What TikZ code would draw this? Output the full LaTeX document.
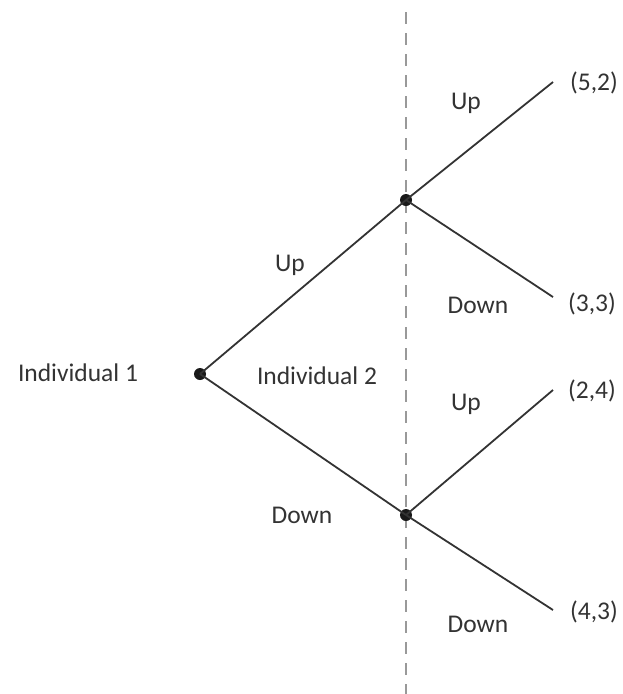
\documentclass[tikz,border=0pt]{standalone}
\usepackage{fontspec}
\setmainfont{Carlito}
\begin{document}
\begin{tikzpicture}[x=1pt,y=-1pt,
  branch/.style={draw=black!80, line width=1.8pt},
  decision/.style={circle, fill=black!90, inner sep=0pt, minimum size=12pt},
  lbl/.style={text=black!80, font=\fontsize{25.5}{30}\selectfont, inner sep=0pt},
  divider/.style={draw=black!40, line width=1.6pt, dash pattern=on 12pt off 9pt}]
  \useasboundingbox (0,0) rectangle (623,694);
  % divider between the two players' moves
  \coordinate (dtop) at (406,12);
  \coordinate (dbot) at (406,694);
  \draw[divider] (dtop) -- (dbot);
  % decision points
  \node[decision] (r) at (200,374) {};
  \node[decision] (u) at (406,200) {};
  \node[decision] (d) at (406,515) {};
  % terminal points
  \coordinate (uu) at (553,82);
  \coordinate (ud) at (553,297);
  \coordinate (du) at (553,390);
  \coordinate (dd) at (553,610);
  \draw[branch] (r.center) -- (u.center);
  \draw[branch] (r.center) -- (d.center);
  \draw[branch] (u.center) -- (uu);
  \draw[branch] (u.center) -- (ud);
  \draw[branch] (d.center) -- (du);
  \draw[branch] (d.center) -- (dd);
  % labels
  \node[lbl] (p1) at (78,373) {Individual 1};
  \node[lbl] (p2) at (317,376) {Individual 2};
  \node[lbl] (l1) at (290,265) {Up};
  \node[lbl] (l2) at (302,515) {Down};
  \node[lbl] (l3) at (466,103) {Up};
  \node[lbl] (l4) at (478,305) {Down};
  \node[lbl] (l5) at (466,404) {Up};
  \node[lbl] (l6) at (478,624) {Down};
  \node[lbl] (o1) at (594,83) {(5,2)};
  \node[lbl] (o2) at (592,304) {(3,3)};
  \node[lbl] (o3) at (592,391) {(2,4)};
  \node[lbl] (o4) at (594,612) {(4,3)};
\end{tikzpicture}
\end{document}
